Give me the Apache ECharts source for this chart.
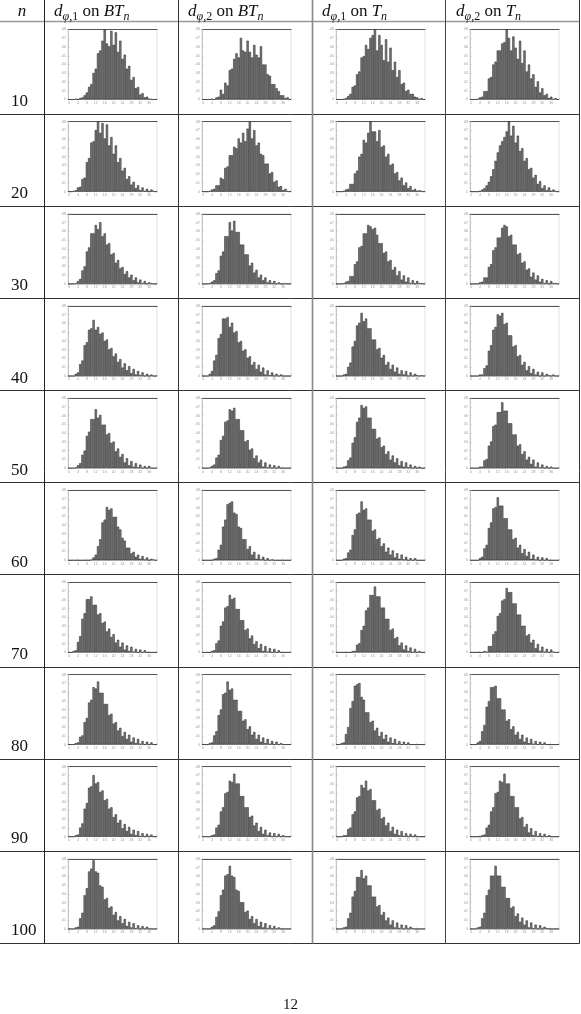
<!DOCTYPE html>
<html>
<head>
<meta charset="utf-8">
<script src="https://cdn.jsdelivr.net/npm/echarts@6/dist/echarts.min.js"></script>
<style>
html, body { margin: 0; padding: 0; background: #fff; }
#main { width: 581px; height: 1014px; }
</style>
</head>
<body>
<div id="main"></div>
<script>
// n 的取值（每行一个）
var nValues = [10, 20, 30, 40, 50, 60, 70, 80, 90, 100];
// 表头
var headCols = [
	['φ', ',1', 'BT'],
	['φ', ',2', 'BT'],
	['φ', ',1', 'T'],
	['φ', ',2', 'T']
];
// 直方图高度（相对于图框高度，0-100），每行 4 个：d1/BT, d2/BT, d1/T, d2/T
var h10 = [
	[0,0,0,1,0,2,3,6,10,18,22,38,44,66,70,84,100,80,76,98,78,96,68,84,58,64,44,48,28,32,16,18,7,9,3,4,1,1,0,0],
	[0,0,0,0,1,0,3,4,14,8,24,20,42,44,58,66,60,88,70,68,84,68,60,78,64,60,76,50,50,36,34,22,22,16,12,6,6,2,3,0],
	[0,0,0,1,2,5,8,18,20,36,40,60,62,78,72,88,92,100,70,92,78,56,86,54,74,42,54,32,42,22,24,12,14,8,8,4,3,1,2,0],
	[0,0,0,1,3,4,12,12,30,32,50,54,70,70,80,82,100,88,70,90,74,58,84,52,70,40,50,30,36,18,26,10,16,6,8,2,4,1,2,0]
];
var h20 = [
	[0,0,1,2,6,7,18,20,42,48,70,72,88,100,84,98,76,96,66,78,54,66,42,48,30,34,18,22,10,14,5,9,2,6,1,4,0,3,1,0],
	[0,0,0,1,3,4,9,9,20,18,34,36,52,52,64,62,76,70,84,72,90,100,76,88,66,70,54,52,40,40,26,28,14,16,7,8,2,4,1,0],
	[0,0,0,1,3,4,11,11,26,30,50,54,74,70,84,100,86,86,72,88,64,66,50,54,38,40,26,28,16,20,9,13,5,8,2,4,1,2,1,0],
	[0,0,0,0,1,3,5,9,14,22,32,44,56,66,72,78,86,100,80,94,70,80,58,62,44,48,32,34,20,24,11,15,5,9,2,6,1,3,1,0]
];
var h30 = [
	[0,0,0,1,4,7,19,25,46,52,72,72,84,78,88,68,72,56,58,42,44,30,34,22,24,14,18,9,13,5,9,2,6,1,4,0,2,1,0,0],
	[0,0,0,1,3,5,15,19,40,46,68,68,88,76,90,74,74,56,56,42,42,26,30,16,20,9,13,5,9,2,5,1,4,0,2,0,0,1,0,0],
	[0,0,0,1,3,4,11,11,28,32,52,54,72,72,84,82,78,80,70,58,58,44,46,32,34,20,24,12,18,6,12,3,9,1,5,0,4,1,1,0],
	[0,0,0,0,2,3,9,9,24,28,48,52,66,66,80,84,82,68,70,56,56,42,44,30,32,20,22,10,16,6,12,3,7,1,5,0,4,1,1,0]
];
var h40 = [
	[0,0,0,3,5,17,22,44,48,66,68,80,66,70,60,62,50,52,38,40,28,32,20,24,12,18,8,14,4,10,2,7,1,5,0,3,0,2,0,0],
	[0,0,0,3,7,22,30,54,60,82,82,84,70,76,62,64,48,50,36,38,26,28,16,20,10,16,6,12,2,8,1,5,0,3,0,2,0,0,0,0],
	[0,0,0,2,3,13,19,42,50,72,76,90,78,82,68,68,52,52,38,40,26,30,16,20,10,16,6,12,3,8,2,7,0,5,0,3,1,0,1,0],
	[0,0,0,0,2,2,11,15,36,44,66,70,88,86,90,74,76,58,58,42,44,28,30,16,20,8,14,4,10,2,6,0,5,0,3,1,0,2,0,0]
];
var h50 = [
	[0,0,0,1,4,7,19,25,46,52,70,70,84,72,76,62,62,48,50,36,38,24,28,16,20,8,14,4,10,2,7,1,5,0,3,0,3,0,0,0],
	[0,0,0,1,3,5,15,19,40,46,66,68,84,82,86,70,70,54,54,38,40,26,28,14,18,8,12,2,8,1,5,0,4,0,3,0,0,0,0,0],
	[0,0,0,2,3,11,15,36,44,66,72,90,86,88,72,72,56,56,42,44,30,32,20,24,12,18,8,14,4,10,2,8,1,5,0,3,0,2,0,0],
	[0,0,0,0,2,2,11,13,32,38,60,62,80,80,94,82,82,64,64,48,48,32,34,20,24,12,16,6,12,2,8,1,5,0,3,0,2,0,0,0]
];
var h60 = [
	[0,0,0,0,0,0,0,0,0,0,1,4,8,20,30,54,58,76,72,74,62,62,48,44,32,28,18,18,10,12,5,8,2,6,1,4,0,2,1,0],
	[0,0,0,0,0,2,3,15,22,48,58,80,82,84,68,66,48,46,30,30,16,20,8,12,2,8,1,5,0,3,0,1,0,0,0,0,0,0,0,0],
	[0,0,0,2,3,11,15,36,44,66,68,84,72,74,58,58,42,44,30,32,20,24,12,18,8,14,4,10,2,8,1,5,0,3,0,3,0,0,0,0],
	[0,0,0,0,3,5,17,22,46,54,74,76,90,78,78,60,60,44,44,30,32,18,22,10,16,6,12,2,8,1,5,0,4,0,3,0,0,0,0,0]
];
var h70 = [
	[0,0,2,3,15,23,48,56,76,76,80,68,68,54,56,42,44,30,34,22,26,14,18,8,14,4,10,2,8,1,5,0,4,0,3,0,0,0,0,0],
	[0,0,0,0,2,3,13,17,38,44,64,66,82,76,78,62,62,46,46,32,34,20,24,12,16,6,12,2,9,1,6,0,5,0,3,0,0,0,0,0],
	[0,0,0,0,0,0,0,2,2,11,13,32,38,60,64,82,82,94,80,80,64,64,48,48,32,34,20,22,10,14,4,10,2,7,0,5,0,2,0,0],
	[0,0,0,0,0,0,2,1,9,9,26,30,52,56,74,76,92,86,86,70,70,54,54,38,38,24,26,14,18,6,12,2,8,1,5,0,4,1,0,0]
];
var h80 = [
	[0,0,0,2,3,11,13,32,38,60,64,82,80,90,74,74,58,58,42,44,30,32,20,24,12,18,8,14,4,10,2,8,1,5,0,4,0,3,0,0],
	[0,0,0,2,3,13,19,42,50,72,74,90,78,80,64,64,48,48,34,36,22,26,14,18,8,14,4,10,2,8,1,5,0,4,0,2,0,0,0,0],
	[0,0,2,3,15,25,52,62,84,86,88,68,64,46,46,32,34,20,24,12,18,8,14,4,10,2,8,1,5,0,4,0,3,0,0,0,0,0,0,0],
	[0,0,0,3,5,19,28,54,62,82,82,84,66,66,50,50,34,36,22,26,14,18,8,14,4,10,2,8,1,5,0,4,0,3,0,0,0,0,0,0]
];
var h90 = [
	[0,0,0,2,3,13,19,40,48,70,72,88,76,78,64,66,52,54,40,42,28,32,20,24,12,18,8,14,4,10,2,8,1,5,0,4,0,3,0,0],
	[0,0,0,0,2,3,13,17,36,42,62,64,80,78,90,76,76,58,58,42,42,28,30,16,20,8,14,4,10,2,6,0,5,0,4,0,2,0,0,0],
	[0,0,0,2,2,11,13,32,36,56,58,74,70,80,66,68,52,52,38,40,26,28,16,20,8,14,4,10,2,8,1,5,0,4,0,3,0,0,0,0],
	[0,0,0,0,0,2,3,13,17,36,42,62,64,80,78,90,76,76,58,58,42,42,26,28,14,18,6,12,2,8,1,5,0,4,0,2,0,0,0,0]
];
var h100 = [
	[0,0,0,2,3,15,23,48,58,82,86,98,82,80,62,60,42,44,30,32,20,24,12,18,8,14,4,10,2,8,1,5,0,4,0,3,0,0,0,0],
	[0,0,0,0,3,5,17,25,48,56,76,78,90,76,74,56,54,38,38,24,26,14,18,8,14,4,10,2,8,1,5,0,4,0,2,0,0,0,0,0],
	[0,0,0,2,3,15,23,46,54,74,74,84,72,76,62,62,46,46,32,34,20,24,12,16,6,12,2,9,1,6,0,5,0,3,1,0,0,0,0,0],
	[0,0,0,2,3,15,23,48,56,76,76,90,76,76,60,60,44,44,30,32,18,22,10,16,6,12,2,9,1,6,0,5,0,3,1,0,0,0,0,0]
];
var rows = [h10, h20, h30, h40, h50, h60, h70, h80, h90, h100];
// y 轴刻度标签
var yTickLabels = ['0', '.01', '.02', '.03', '.04', '.05', '.06', '.07', '.08'];

var chart = echarts.init(document.getElementById('main'));

var colLeft = [44, 178, 312, 446];
var tableRight = 579.5;
var headLine = 21.5;
var rowH = 92.15;
var serif = "'Liberation Serif', 'DejaVu Serif', serif";

var grids = [], xAxes = [], yAxes = [], series = [], graphics = [];

// 表格线
graphics.push({ type: 'line', shape: { x1: 0, y1: headLine, x2: tableRight, y2: headLine }, style: { stroke: '#999', lineWidth: 1.6 } });
for (var k = 1; k <= 10; k++) {
	var yy = Math.round(headLine + k * rowH) + 0.5;
	graphics.push({ type: 'line', shape: { x1: 0, y1: yy, x2: tableRight, y2: yy }, style: { stroke: '#333', lineWidth: 1 } });
}
var vLines = [[44.5, '#222'], [178.5, '#333'], [312.5, '#888'], [445.5, '#444'], [579.5, '#333']];
vLines.forEach(function(v) {
	graphics.push({ type: 'line', shape: { x1: v[0], y1: 0, x2: v[0], y2: Math.round(headLine + 10 * rowH) + 0.5 }, style: { stroke: v[1], lineWidth: v[1] == '#888' ? 1.6 : 1 } });
});

// 表头
var richHead = {
	i: { fontFamily: serif, fontStyle: 'italic', fontSize: 17, fill: '#111' },
	r: { fontFamily: serif, fontSize: 17, fill: '#111' },
	si: { fontFamily: serif, fontStyle: 'italic', fontSize: 12, fill: '#111', padding: [9, 0, 0, 0] },
	sr: { fontFamily: serif, fontSize: 12, fill: '#111', padding: [9, 0, 0, 0] }
};
graphics.push({ type: 'text', x: 22, y: 12, style: { text: '{i|n}', rich: richHead, align: 'center', verticalAlign: 'middle' } });
headCols.forEach(function(h, c) {
	graphics.push({
		type: 'text', x: colLeft[c] + 10, y: 12,
		style: { text: '{i|d}{si|' + h[0] + '}{sr|' + h[1] + '}{r| on }{i|' + h[2] + '}{si|n}', rich: richHead, align: 'left', verticalAlign: 'middle' }
	});
});

// 行标签 + 直方图
rows.forEach(function(row, r) {
	var top = headLine + r * rowH;
	graphics.push({
		type: 'text', x: 11, y: top + rowH - 12,
		style: { text: String(nValues[r]), font: '17px ' + serif, fill: '#111', align: 'left', verticalAlign: 'middle' }
	});
	row.forEach(function(vals, c) {
		var gi = grids.length;
		grids.push({ left: colLeft[c] + 24, top: top + 8, width: 89, height: 70, show: true, borderColor: '#ccc', borderWidth: 0.6 });
		var cats = vals.map(function(v, i) { return i; });
		xAxes.push({
			type: 'category', gridIndex: gi, data: cats, boundaryGap: true,
			axisLine: { lineStyle: { color: '#aaa', width: 0.6 } },
			axisTick: { show: true, interval: 3, length: 1.5, inside: true, lineStyle: { color: '#aaa', width: 0.5 } },
			axisLabel: { interval: 3, fontSize: 3.5, color: '#999', margin: 1.5 }
		});
		xAxes.push({
			type: 'category', gridIndex: gi, data: cats, position: 'top',
			axisLine: { lineStyle: { color: '#555', width: 1.2 } },
			axisTick: { show: false }, axisLabel: { show: false }
		});
		yAxes.push({
			type: 'value', gridIndex: gi, min: 0, max: 100, interval: 12.5,
			axisLine: { show: true, lineStyle: { color: '#aaa', width: 0.6 } },
			axisTick: { show: true, length: 1.5, inside: true, lineStyle: { color: '#aaa', width: 0.5 } },
			splitLine: { show: false },
			axisLabel: { fontSize: 3.5, color: '#999', margin: 2, formatter: function(v) { return yTickLabels[Math.round(v / 12.5)] || ''; } }
		});
		series.push({
			type: 'bar', xAxisIndex: gi * 2, yAxisIndex: gi, data: vals,
			barCategoryGap: '0%', silent: true, animation: false,
			itemStyle: { color: '#7a7a7a', borderColor: '#1e1e1e', borderWidth: 0.5 }
		});
	});
});

// 页码
graphics.push({ type: 'text', x: 290.5, y: 1005, style: { text: '12', font: '15px ' + serif, fill: '#111', align: 'center', verticalAlign: 'middle' } });

chart.setOption({
	animation: false,
	grid: grids,
	xAxis: xAxes,
	yAxis: yAxes,
	series: series,
	graphic: { elements: graphics }
});
</script>
</body>
</html>
